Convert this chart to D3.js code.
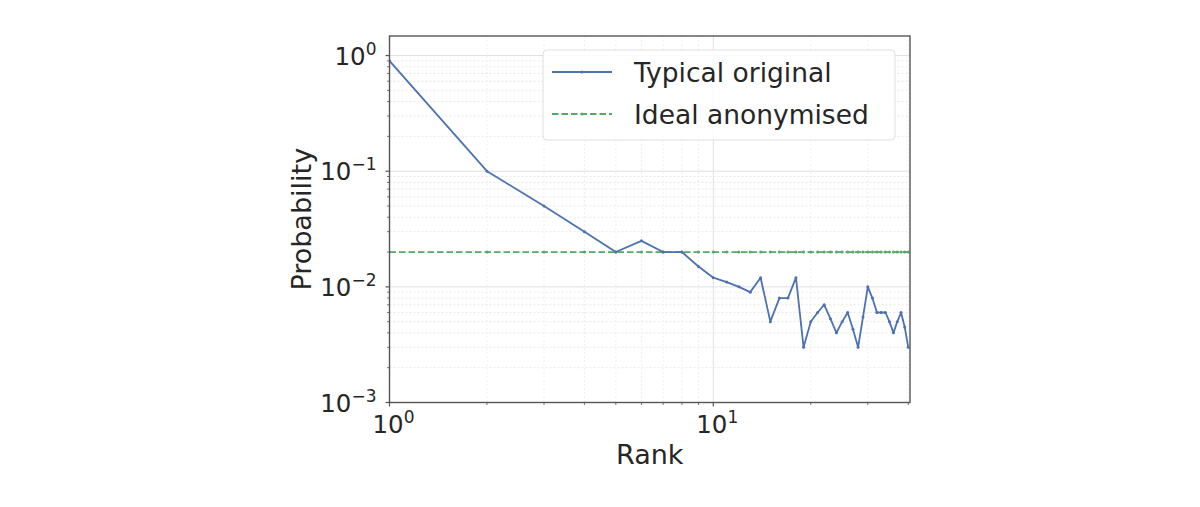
<!DOCTYPE html>
<html>
<head>
<meta charset="utf-8">
<script src="https://cdn.jsdelivr.net/npm/d3@7"></script>
<style>
  body { margin: 0; background: #fff; }
  svg { display: block; font-family: "DejaVu Sans", sans-serif; }
</style>
</head>
<body>
<svg id="chart" width="1200" height="507"></svg>
<script>
// ranks 1..40 and the probability
var ranks = [1, 2, 3, 4, 5, 6, 7, 8, 9, 10,
             11, 12, 13, 14, 15, 16, 17, 18, 19, 20,
             21, 22, 23, 24, 25, 26, 27, 28, 29, 30,
             31, 32, 33, 34, 35, 36, 37, 38, 39, 40]
var typical = [0.9, 0.1, 0.05, 0.03, 0.02, 0.025, 0.02, 0.02, 0.015, 0.012,
               0.011, 0.01, 0.009, 0.012, 0.005, 0.008, 0.008, 0.012, 0.003, 0.005,
               0.006, 0.007, 0.0053, 0.004, 0.005, 0.006, 0.0043, 0.003, 0.0055, 0.01,
               0.008, 0.006, 0.006, 0.006, 0.005, 0.004, 0.005, 0.006, 0.0045, 0.003]
var ideal = 0.02 // flat line, 1/50
var yTicks = [1e-3, 1e-2, 1e-1, 1]
var yTickLabels = ['\u22123', '\u22122', '\u22121', '0'] // exponents
var xTicks = [1, 10]
var xTickLabels = ['0', '1']
var seriesNames = ['Typical original', 'Ideal anonymised']

// note: "top" is taken by window.top, so the box edges get their own names
var boxL = 389.5, boxR = 910, boxT = 36, boxB = 402.5
var blue = '#4c72b0', green = '#55a868', ink = '#262626'

var svg = d3.select('#chart')

var x = d3.scaleLog().domain([1, 40.5]).range([boxL, boxR])
var y = d3.scaleLog().domain([1e-3, 1.476]).range([boxB, boxT])

// minor ticks for the grid
var xMinor = [], yMinor = []
for (var d = 1; d <= 40; d *= 10) {
  for (var k = 2; k <= 9; k++) if (d * k < 40.5) xMinor.push(d * k)
}
for (var e = 1e-3; e < 0.9; e *= 10) {
  for (var k = 2; k <= 9; k++) yMinor.push(e * k)
}

var grid = svg.append('g')
grid.selectAll('.ymin').data(yMinor).enter().append('line')
  .attr('x1', boxL).attr('x2', boxR)
  .attr('y1', d => y(d)).attr('y2', d => y(d))
  .attr('stroke', '#e2e2e2').attr('stroke-width', 0.8).attr('stroke-dasharray', '2,2')
grid.selectAll('.xmin').data(xMinor).enter().append('line')
  .attr('y1', boxT).attr('y2', boxB)
  .attr('x1', d => x(d)).attr('x2', d => x(d))
  .attr('stroke', '#ececec').attr('stroke-width', 0.8).attr('stroke-dasharray', '2,2')
grid.selectAll('.ymaj').data(yTicks).enter().append('line')
  .attr('x1', boxL).attr('x2', boxR)
  .attr('y1', d => y(d)).attr('y2', d => y(d))
  .attr('stroke', '#dcdcdc').attr('stroke-width', 0.9)
grid.selectAll('.xmaj').data(xTicks).enter().append('line')
  .attr('y1', boxT).attr('y2', boxB)
  .attr('x1', d => x(d)).attr('x2', d => x(d))
  .attr('stroke', '#dcdcdc').attr('stroke-width', 0.9)

// data lines, clipped to the axes box
svg.append('clipPath').attr('id', 'clip').append('rect')
  .attr('x', boxL).attr('y', boxT).attr('width', boxR - boxL).attr('height', boxB - boxT)
var plot = svg.append('g').attr('clip-path', 'url(#clip)')

var line = d3.line().x(d => x(d[0])).y(d => y(d[1]))
var typData = ranks.map((r, i) => [r, typical[i]])
var idealData = ranks.map(r => [r, ideal])

plot.append('path').datum(idealData)
  .attr('d', line).attr('fill', 'none')
  .attr('stroke', green).attr('stroke-width', 1.8).attr('stroke-dasharray', '6.5,3')
plot.selectAll('.gdot').data(idealData).enter().append('circle')
  .attr('cx', d => x(d[0])).attr('cy', d => y(d[1])).attr('r', 1.5).attr('fill', green)

plot.append('path').datum(typData)
  .attr('d', line).attr('fill', 'none')
  .attr('stroke', blue).attr('stroke-width', 1.8).attr('stroke-linejoin', 'round')
plot.selectAll('.bdot').data(typData).enter().append('circle')
  .attr('cx', d => x(d[0])).attr('cy', d => y(d[1])).attr('r', 1.5).attr('fill', blue)

// frame
svg.append('rect')
  .attr('x', boxL).attr('y', boxT).attr('width', boxR - boxL).attr('height', boxB - boxT)
  .attr('fill', 'none').attr('stroke', '#555').attr('stroke-width', 1.4)

// tick marks
var ticks = svg.append('g').attr('stroke', '#555')
ticks.selectAll('.yt').data(yTicks).enter().append('line')
  .attr('x1', boxL - 4).attr('x2', boxL).attr('y1', d => y(d)).attr('y2', d => y(d)).attr('stroke-width', 1.2)
ticks.selectAll('.ytm').data(yMinor).enter().append('line')
  .attr('x1', boxL - 2.5).attr('x2', boxL).attr('y1', d => y(d)).attr('y2', d => y(d)).attr('stroke-width', 0.8)
ticks.selectAll('.xt').data(xTicks).enter().append('line')
  .attr('y1', boxB).attr('y2', boxB + 4).attr('x1', d => x(d)).attr('x2', d => x(d)).attr('stroke-width', 1.2)
ticks.selectAll('.xtm').data(xMinor).enter().append('line')
  .attr('y1', boxB).attr('y2', boxB + 2.5).attr('x1', d => x(d)).attr('x2', d => x(d)).attr('stroke-width', 0.8)

// tick labels as 10 with superscript exponent
function powLabel(sel) {
  sel.append('tspan').text('10')
  sel.append('tspan').attr('dy', -10).attr('font-size', 17).text(d => d)
}
svg.selectAll('.yl').data(yTickLabels).enter().append('text')
  .attr('x', boxL - 13).attr('y', (d, i) => y(yTicks[i]) + 9)
  .attr('text-anchor', 'end').attr('font-size', 24.5).attr('fill', ink)
  .call(powLabel)
svg.selectAll('.xl').data(xTickLabels).enter().append('text')
  .attr('x', (d, i) => x(xTicks[i]) + 4).attr('y', 433)
  .attr('text-anchor', 'middle').attr('font-size', 24.5).attr('fill', ink)
  .call(powLabel)

// axis titles
svg.append('text').attr('x', (boxL + boxR) / 2).attr('y', 464)
  .attr('text-anchor', 'middle').attr('font-size', 27).attr('fill', ink).text('Rank')
svg.append('text')
  .attr('transform', `translate(311, ${(boxT + boxB) / 2}) rotate(-90)`)
  .attr('text-anchor', 'middle').attr('font-size', 27).attr('fill', ink).text('Probability')

// legend
var lg = svg.append('g')
lg.append('rect').attr('x', 543).attr('y', 50).attr('width', 352).attr('height', 90).attr('rx', 4)
  .attr('fill', 'white').attr('fill-opacity', 0.85).attr('stroke', '#e0e0e0').attr('stroke-width', 1)
var legendItems = [
  {name: seriesNames[0], color: blue, dash: null, ly: 72},
  {name: seriesNames[1], color: green, dash: '6.5,3', ly: 114}
]
legendItems.forEach(it => {
  lg.append('line').attr('x1', 552).attr('x2', 612).attr('y1', it.ly).attr('y2', it.ly)
    .attr('stroke', it.color).attr('stroke-width', 1.8).attr('stroke-dasharray', it.dash)
  lg.append('circle').attr('cx', 582).attr('cy', it.ly).attr('r', 1.5).attr('fill', it.color)
  lg.append('text').attr('x', 634).attr('y', it.ly + 10).attr('font-size', 26.5).attr('fill', ink).text(it.name)
})
</script>
</body>
</html>
